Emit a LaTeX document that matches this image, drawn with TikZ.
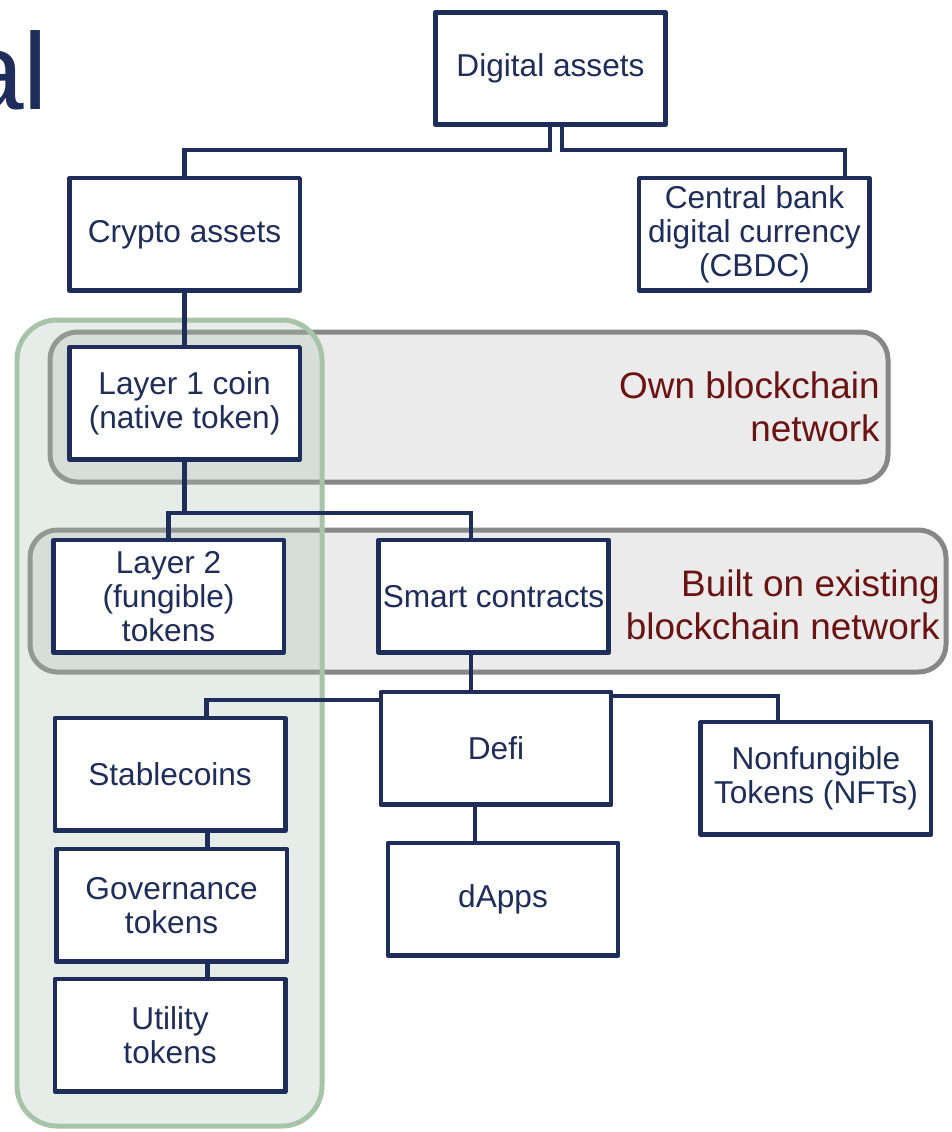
\documentclass[tikz,border=0pt]{standalone}
\usepackage{fontspec}
\setmainfont{Liberation Sans}
\usepackage{tikz}
\usetikzlibrary{positioning}
\usepackage{xcolor}
\definecolor{navy}{HTML}{1F2D5B}
\definecolor{noteRed}{HTML}{6B1212}
\definecolor{panelGrey}{HTML}{878787}
\definecolor{panelFill}{HTML}{EBEBEB}
\definecolor{panelGreen}{HTML}{A8C4A8}
\definecolor{greenFill}{HTML}{ACC0B2}

\begin{document}
\begin{tikzpicture}[
            x=0.02cm, y=-0.02cm,
            node distance=0.6cm,
            every node/.style={font=\fontsize{18}{19.5}\selectfont},
            box/.style={draw=navy, text=navy, fill=white, line width=0.09cm, line join=round, minimum width=4.61cm, minimum height=2.25cm, align=center, inner sep=1pt},
            link/.style={draw=navy, line width=0.09cm},
            note/.style={text=noteRed, font=\fontsize{21}{24.5}\selectfont, align=right, inner sep=0pt},
            greybox/.style={draw=panelGrey, fill=panelFill, line width=0.1cm, rounded corners=0.55cm},
            greenbox/.style={draw=panelGreen, fill=greenFill, fill opacity=0.3, line width=0.1cm, rounded corners=0.8cm}
        ]
            \useasboundingbox (0,0) rectangle (952,1132);

            % panels behind the chart
            \draw[greybox] (50,332) rectangle (888,482);
            \draw[greybox] (30,530) rectangle (946,672);
            \draw[greenbox] (17,320) rectangle (322,1126);

            \node[anchor=base west, inner sep=0pt, text=navy, font=\fontsize{62}{62}\selectfont] (title) at (-37,110) {al};
            \node[note, anchor=east] (ownnet) at (880,407) {Own blockchain\\network};
            \node[note, anchor=east] (builtnet) at (940,605) {Built on existing\\blockchain network};

            \node[box] (digital) at (550.5,68.5) {Digital assets};
            \node[box, below left=0.98cm and 2.62cm of digital] (crypto) {Crypto assets};
            \node[box, below right=0.98cm and -0.62cm of digital] (cbdc) {Central bank\\digital currency\\(CBDC)};
            \node[box, below=1.04cm of crypto] (layer1) {Layer 1 coin\\(native token)};
            \node[box, below=1.52cm of layer1, xshift=-0.32cm] (layer2) {Layer 2\\(fungible)\\tokens};
            \node[box, right=1.8cm of layer2] (smart) {Smart contracts};
            \node[box, below=0.7cm of smart, xshift=0.05cm] (defi) {Defi};
            \node[box, right=1.7cm of defi, yshift=-0.6cm] (nft) {Nonfungible\\Tokens (NFTs)};
            \node[box, below=0.68cm of defi, xshift=0.14cm] (dapps) {dApps};
            \node[box, below=1.22cm of layer2, xshift=0.03cm] (stable) {Stablecoins};
            \node[box, below=0.28cm of stable, xshift=0.03cm] (gov) {Governance\\tokens};
            \node[box, below=0.26cm of gov, xshift=-0.03cm] (util) {Utility\\tokens};

            % tree lines
            \draw[link] ([xshift=-0.01cm]digital.south) -- ++(0,23) -| (crypto.north);
            \draw[link] ([xshift=0.23cm]digital.south) -- ++(0,23) -| ([xshift=1.81cm]cbdc.north);
            \draw[link] (crypto.south) -- (crypto.south |- layer1.north);
            \draw[link] (layer1.south) -- ++(0,51) coordinate (split1);
            \draw[link] (split1) -| (layer2.north);
            \draw[link] (split1) -| ([xshift=-0.45cm]smart.north);
            \draw[link] ([xshift=-0.45cm]smart.south) -- ([xshift=-0.45cm]smart.south |- defi.north);
            \draw[link] ([yshift=-0.2cm]defi.north west) -| ([xshift=0.73cm]stable.north);
            \draw[link] ([yshift=-0.12cm]defi.north east) -| ([xshift=-0.76cm]nft.north);
            \draw[link] ([xshift=-0.42cm]defi.south) -- ([xshift=-0.42cm]defi.south |- dapps.north);
            \draw[link] ([xshift=0.75cm]stable.south) -- ([xshift=0.75cm]stable.south |- gov.north);
            \draw[link] ([xshift=0.72cm]gov.south) -- ([xshift=0.72cm]gov.south |- util.north);
        \end{tikzpicture}
\end{document}
